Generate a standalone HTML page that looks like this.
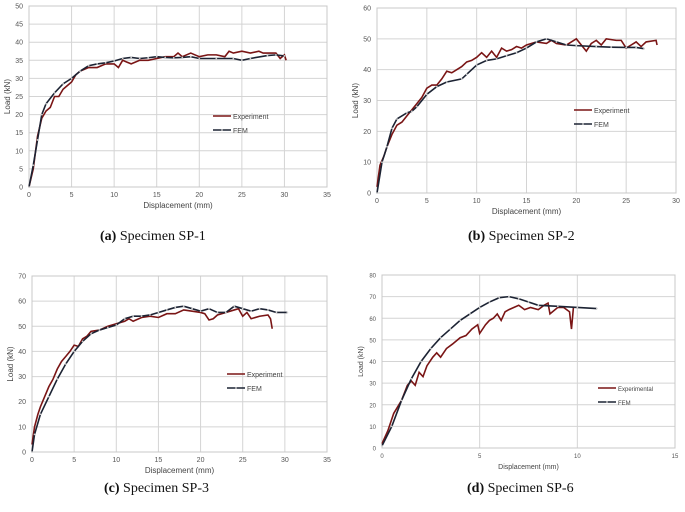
<!DOCTYPE html>
<html><head><meta charset="utf-8">
<style>
body{margin:0;background:#fff;width:685px;height:512px;overflow:hidden;font-family:"Liberation Sans",sans-serif}
.cap{position:absolute;font-family:"Liberation Serif",serif;font-size:14px;color:#111;white-space:nowrap}
</style></head><body>
<svg id="fig" width="685" height="512" style="position:absolute;left:0;top:0"></svg>
<div class="cap" style="left:100px;top:229px"><b>(a)</b> Specimen SP-1</div>
<div class="cap" style="left:468px;top:229px"><b>(b)</b> Specimen SP-2</div>
<div class="cap" style="left:104px;top:481px"><b>(c)</b> Specimen SP-3</div>
<div class="cap" style="left:467px;top:481px"><b>(d)</b> Specimen SP-6</div>
<script>
const expA=[[0,0],[0.5,5],[1,14],[1.5,19],[2,21],[2.5,22],[3,25],[3.5,25],[4,27],[4.5,28],[5,29],[5.5,31],[6,32],[7,33],[8,33],[9,34],[10,34],[10.5,33],[11,35],[12,34],[13,35],[14,35],[15,35.5],[16,36],[17,36],[17.5,37],[18,36],[19,37],[20,36],[21,36.5],[22,36.5],[23,36],[23.5,37.5],[24,37],[25,37.5],[26,37],[27,37.5],[27.5,37],[29,37],[29.5,35.5],[30,36.5],[30.2,35]];
const femA=[[0,0],[0.5,6],[1,13],[1.5,20],[2,23],[3,26],[4,28.5],[5,30],[6,32],[7,33.5],[8,34],[9,34.3],[10,34.8],[11,35.5],[12,35.8],[13,35.5],[14,35.7],[15,36],[16,35.8],[17,35.7],[18,35.8],[19,36],[20,35.5],[22,35.5],[24,35.5],[25,35],[26,35.5],[28,36.3],[29,36.5],[30,36.2]];
const expB=[[0,2],[0.3,9],[0.7,12],[1,15],[1.5,19],[2,22],[2.5,23],[3,25],[3.5,27],[4,29],[4.5,31],[5,34],[5.5,35],[6,35],[6.5,37],[7,39.5],[7.5,39],[8,40],[8.5,41],[9,42.5],[9.5,43],[10,44],[10.5,45.5],[11,44],[11.5,46],[12,44],[12.5,47],[13,46],[13.5,46.5],[14,47.5],[14.5,47],[15,48],[16,49],[17,48.5],[17.5,49.5],[18,48.5],[19,48],[19.5,49],[20,50],[20.5,48],[21,46],[21.5,48.5],[22,49.5],[22.5,48],[23,50],[24,49.5],[24.5,49.5],[25,47],[25.5,48],[26,49],[26.5,47.5],[27,49],[28,49.5],[28.1,48]];
const femB=[[0,0],[0.5,10],[1,15],[1.5,21],[2,24],[3,26],[3.5,26.5],[4,28],[5,32],[6,34.5],[7,36],[8.5,37],[9,38.5],[10,41.5],[11,43],[12,43.5],[13,44.5],[14,45.5],[15,47],[16,49],[17,50],[18,49],[19,48],[20,47.8],[22,47.5],[23.5,47.3],[25,47.2],[26,47.2],[26.8,46.8]];
const expC=[[0,3],[0.3,10],[0.7,15],[1,18],[1.5,22],[2,26],[2.5,29],[3,33],[3.5,36],[4,38],[4.5,40],[5,42.5],[5.5,42],[6,45],[6.5,46],[7,48],[8,48.5],[9,50],[10,51],[11,52],[11.5,53],[12,52],[13,53.5],[14,54],[15,53.5],[16,55],[17,55],[18,56.5],[19,56],[20,55.5],[20.5,55],[21,52.5],[21.5,53],[22,54.5],[23,55.5],[24,56.5],[24.5,57],[25,54],[25.5,55.5],[26,53],[27,54],[28,54.5],[28.3,53],[28.5,49]];
const femC=[[0,0],[0.3,7],[1,15],[2,22],[3,29],[4,35],[5,40],[6,44],[7,47],[8,48.5],[9,49.5],[10,50.5],[11,53],[12,54],[13,54],[14,54.5],[15,55.5],[16,56.5],[17,57.5],[18,58],[19,57],[20,56],[21,57],[22,55.5],[23,55.5],[24,58],[25,57],[26,56],[27,57],[28,56.5],[29,55.5],[30.3,55.5]];
const expD=[[0,2],[0.3,8],[0.6,16],[1,22],[1.3,29],[1.5,31],[1.7,29],[1.9,35],[2.1,33],[2.3,38],[2.6,42],[2.8,44],[3,42],[3.3,46],[3.6,48],[4,51],[4.3,52],[4.6,55],[4.9,57],[5,53],[5.3,57],[5.5,59],[5.7,60],[5.9,62],[6.1,59],[6.3,63],[6.5,64],[7,66],[7.3,64],[7.6,65],[8,64],[8.3,66],[8.5,67],[8.6,62],[9,65],[9.3,65],[9.6,63],[9.7,55],[9.8,65]];
const femD=[[0,1],[0.5,10],[1,22],[1.5,32],[2,40],[2.5,46],[3,51],[3.5,55],[4,59],[4.5,62],[5,65],[5.5,67.5],[6,69.5],[6.5,70],[7,69],[7.5,67.5],[8,66],[9,65.5],[10,65],[11,64.5]];
const xTicksA=[0,5,10,15,20,25,30,35], yTicksA=[0,5,10,15,20,25,30,35,40,45,50];
const xTicksB=[0,5,10,15,20,25,30], yTicksB=[0,10,20,30,40,50,60];
const xTicksC=[0,5,10,15,20,25,30,35], yTicksC=[0,10,20,30,40,50,60,70];
const xTicksD=[0,5,10,15], yTicksD=[0,10,20,30,40,50,60,70,80];
const NS="http://www.w3.org/2000/svg";
const svg=document.getElementById('fig');
function mk(t,a,p){const e=document.createElementNS(NS,t);for(const k in a)e.setAttribute(k,a[k]);(p||svg).appendChild(e);return e;}
function panel(id,box,xt,yt,exp,fem,legX,legY,expName,fs){
  const g=mk('g',{});
  
  
  const [x0,x1,y0,y1]=box;
  const xmax=xt[xt.length-1],ymax=yt[yt.length-1];
  const sx=v=>x0+(x1-x0)*v/xmax, sy=v=>y0-(y0-y1)*v/ymax;
  yt.forEach(v=>{const l=mk('line',{x1:x0,x2:x1,y1:sy(v),y2:sy(v),stroke:'#d4d4d4','stroke-width':1},g);
    
    const t=mk('text',{x:x0-6,y:sy(v)+2.5,'text-anchor':'end','font-size':fs,fill:'#555'},g);t.textContent=v;
    });
  xt.forEach(v=>{const l=mk('line',{x1:sx(v),x2:sx(v),y1:y1,y2:y0,stroke:'#d4d4d4','stroke-width':1},g);
    
    const t=mk('text',{x:sx(v),y:y0+10,'text-anchor':'middle','font-size':fs,fill:'#555'},g);t.textContent=v;
    });
  const bd=mk('rect',{x:x0,y:y1,width:x1-x0,height:y0-y1,fill:'none',stroke:'#c8c8c8','stroke-width':1},g);
  
  const xl=mk('text',{x:(x0+x1)/2,y:y0+21,'text-anchor':'middle','font-size':fs+1,fill:'#444'},g);xl.textContent='Displacement (mm)';
  
  const yl=mk('text',{x:0,y:0,'text-anchor':'middle','font-size':fs+1,fill:'#444',transform:`translate(${x0-19},${(y0+y1)/2}) rotate(-90)`},g);yl.textContent='Load (kN)';
  
  const pe=mk('polyline',{points:exp.map(p=>sx(p[0])+','+sy(p[1])).join(' '),fill:'none',stroke:'#7a1515','stroke-width':1.6},g);
  
  const pf=mk('polyline',{points:fem.map(p=>sx(p[0])+','+sy(p[1])).join(' '),fill:'none',stroke:'#1c2333','stroke-width':1.6},g);
  
  fem.forEach(p=>{const m=mk('circle',{cx:sx(p[0]),cy:sy(p[1]),r:0.9,fill:'#ccc'},g);
    });
  const l1=mk('line',{x1:legX,x2:legX+18,y1:legY,y2:legY,stroke:'#7a1515','stroke-width':1.6},g);
  
  const t1=mk('text',{x:legX+20,y:legY+3,'font-size':fs,fill:'#444'},g);t1.textContent=expName;
  
  const l2=mk('line',{x1:legX,x2:legX+18,y1:legY+14,y2:legY+14,stroke:'#1c2333','stroke-width':1.6},g);
  
  const lm=mk('circle',{cx:legX+9,cy:legY+14,r:0.9,fill:'#ccc'},g);
  
  const t2=mk('text',{x:legX+20,y:legY+17,'font-size':fs,fill:'#444'},g);t2.textContent='FEM';
  
}
panel('a',[29,327,187,6],xTicksA,yTicksA,expA,femA,213,116,'Experiment',7);
panel('b',[377,676,193,8],xTicksB,yTicksB,expB,femB,574,110,'Experiment',7);
panel('c',[32,327,452,276],xTicksC,yTicksC,expC,femC,227,374,'Experiment',7);
panel('d',[382,675,448,275],xTicksD,yTicksD,expD,femD,598,388,'Experimental',6);
</script>
</body></html>
